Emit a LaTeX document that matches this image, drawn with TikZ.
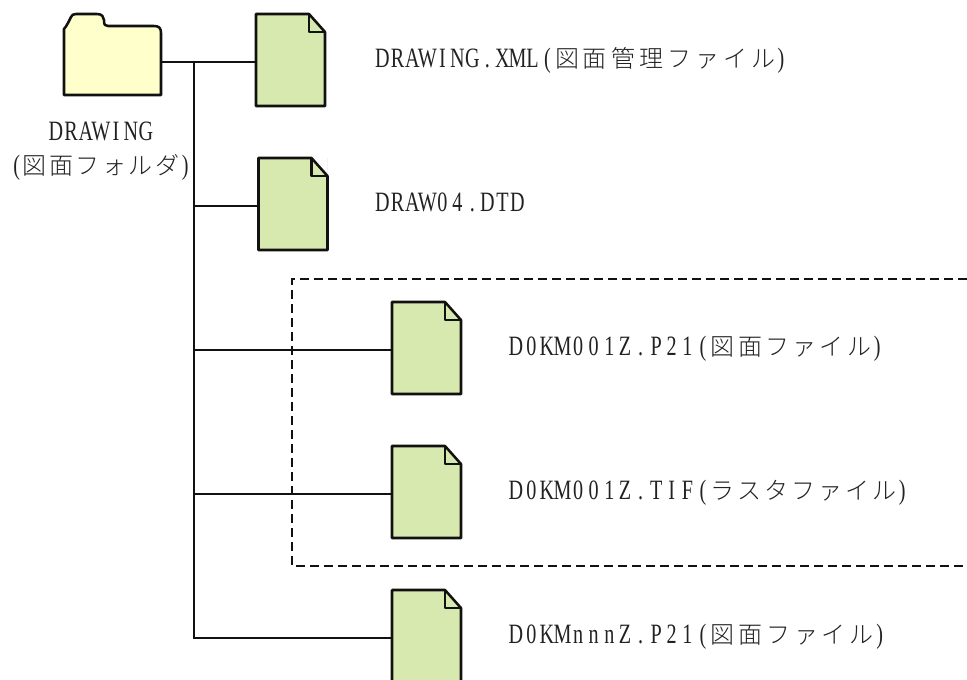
\documentclass[tikz,border=0pt]{standalone}
\usepackage{fontspec}
\newfontfamily\latF[FakeStretch=0.72]{Liberation Serif}
\newfontfamily\cjkA[LetterSpace=16.7]{Noto Sans CJK JP Light}
\newfontfamily\cjkB[LetterSpace=12.5]{Noto Sans CJK JP Light}
\newfontfamily\cjkC[LetterSpace=13.75]{Noto Sans CJK JP Light}
\newfontfamily\cjkE[LetterSpace=15.8]{Noto Sans CJK JP Light}
\newfontfamily\cjkD[LetterSpace=10.4]{Noto Sans CJK JP Light}
\newcommand{\szL}{\fontsize{21pt}{24pt}\selectfont}
\newcommand{\szC}{\fontsize{18pt}{24pt}\selectfont}
\makeatletter
\newcommand{\cells}[2]{{\latF\szL\@tfor\cc:=#2\do{\makebox[#1][c]{\cc}}}}
\makeatother
\definecolor{docfill}{HTML}{D8E9B0}
\definecolor{folderfill}{HTML}{FFFFCC}
\definecolor{ink}{HTML}{111111}
\definecolor{txt}{HTML}{222222}
\tikzset{
  x=0.75pt,y=-0.75pt,
  line/.style={draw=ink,line width=1.6pt},
  outline/.style={draw=ink,line width=1.9pt,line join=round},
  docbody/.style={minimum width=51.75pt,minimum height=69pt,inner sep=0pt,outer sep=0pt,fill=docfill},
  folderbody/.style={minimum width=72.75pt,minimum height=51.75pt,inner sep=0pt,outer sep=0pt},
  lbl/.style={anchor=base west,inner sep=0pt,outer sep=0pt,text=txt},
  captext/.style={anchor=base,inner sep=0pt,outer sep=0pt,text=txt},
  boundary/.style={draw=ink,line width=1.5pt,dash pattern=on 7pt off 3.5pt}
}
\newcommand{\docfile}[3]{%
  \node[docbody,anchor=north west] (#1) at (#2,#3) {};
  \path[fill=white] (#1.north east) ++(-12pt,0) coordinate (#1f) -- (#1.north east) -- ++(0,-13.5pt) coordinate (#1g) -- cycle;
  \path[fill=docfill] (#1f) -- (#1g) -- (#1f |- #1g) -- cycle;
  \draw[outline] (#1.north west) -- (#1f) -- (#1g) -- (#1.south east) -- (#1.south west) -- cycle;
  \draw[outline] (#1f) -- (#1f |- #1g) -- (#1g);
}
\begin{document}
\begin{tikzpicture}
\useasboundingbox (0,0) rectangle (967,679);
\clip (0,0) rectangle (967,679);
% dashed group
\coordinate (dtr) at (967,279);
\coordinate (dtl) at (292,279);
\coordinate (dbl) at (292,566);
\coordinate (dbr) at (967,566);
\draw[boundary] (dtr) -- (dtl) -- (dbl) -- (dbr);
% files
\docfile{doca}{256}{14}
\docfile{docb}{258.5}{158}
\docfile{docc}{392}{302}
\docfile{docd}{392}{446}
\docfile{doce}{392}{590}
% folder
\node[folderbody,anchor=south west] (folder) at (64,95) {};
\draw[outline,fill=folderfill]
  (folder.south west) -- (64,29) .. controls (65,27) and (67,26) .. (68,23)
  -- (71,17) .. controls (72,15) and (73,14) .. (76,14)
  -- (97,14) .. controls (102,14) and (104,17) .. (104,20)
  .. controls (104,25) and (105,26) .. (108,26)
  -- (154,26) .. controls (159,26) and (161,28) .. (161,33)
  -- (folder.south east) -- cycle;
% connectors
\coordinate (j1) at (194,62);
\coordinate (j2) at (194,206);
\coordinate (j3) at (194,350);
\coordinate (j4) at (194,494);
\coordinate (j5) at (194,638);
\draw[line] (j1 -| folder.east) -- (j1 -| doca.west);
\draw[line] (j1) -- (j5) -- (j5 -| doce.west);
\draw[line] (j2) -- (j2 -| docb.west);
\draw[line] (j3) -- (j3 -| docc.west);
\draw[line] (j4) -- (j4 -| docd.west);
% labels
\node[captext] (capa) at (101,140) {\cells{11.25pt}{DRAWING}};
\node[captext] (capb) at (101,174) {\cells{9pt}{(}{\cjkD\szC 図面フォルダ}\cells{9pt}{)}};
\node[lbl] (la) at (375,67) {\cells{11.25pt}{DRAWING.XML(}{\cjkA\szC 図面管理ファイル}\cells{9pt}{)}};
\node[lbl] (lb) at (375,211) {\cells{11.25pt}{DRAW04.DTD}};
\node[lbl] (lc) at (508,355) {\cells{11.7pt}{D0KM001Z.P21(}{\cjkC\szC 図面ファイル}\cells{9pt}{)}};
\node[lbl] (ld) at (508,499) {\cells{11.7pt}{D0KM001Z.TIF(}{\cjkB\szC ラスタファイル}\cells{9pt}{)}};
\node[lbl] (le) at (508,643) {\cells{11.7pt}{D0KMnnnZ.P21(}{\cjkE\szC 図面ファイル}\cells{9pt}{)}};
\end{tikzpicture}
\end{document}
